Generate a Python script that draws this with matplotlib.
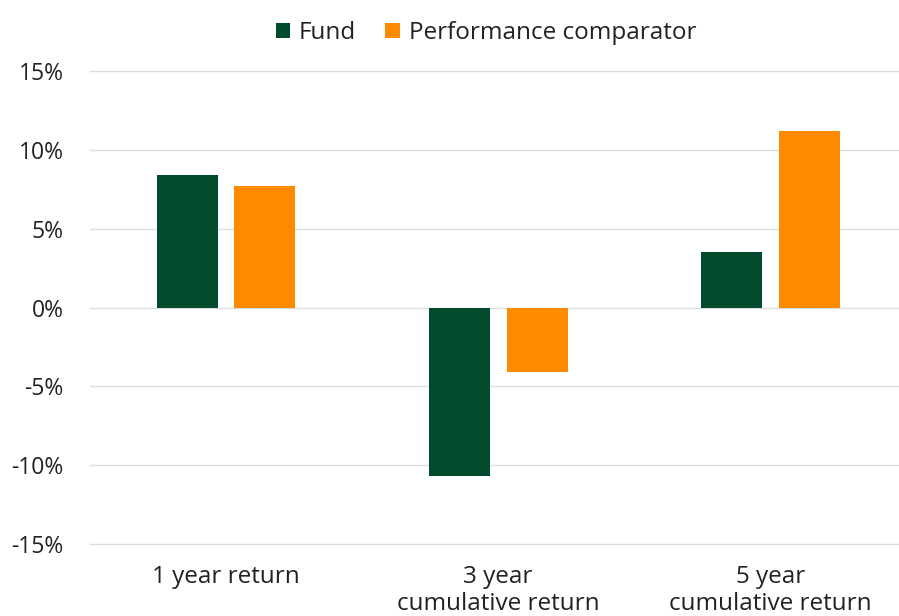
import matplotlib
matplotlib.use("Agg")
import matplotlib.pyplot as plt
import numpy as np

# chart data
categories = ["1 year return", "3 year\ncumulative return", "5 year\ncumulative return"]
fund = [8.4, -10.7, 3.5]
comparator = [7.7, -4.1, 11.2]
series_names = ["Fund", "Performance comparator"]
yticks = [-15, -10, -5, 0, 5, 10, 15]

green = "#024B2D"
orange = "#FF8A00"

plt.rcParams["font.family"] = ["Open Sans", "DejaVu Sans"]

fig = plt.figure(figsize=(8.99, 6.16), dpi=100)
ax = fig.add_axes([0.1001, 0.1169, 0.8989, 0.7678])

x = np.arange(len(categories))
width = 0.224
offset = 0.143
ax.bar(x - offset, fund, width, color=green, label=series_names[0], zorder=3)
ax.bar(x + offset, comparator, width, color=orange, label=series_names[1], zorder=3)

ax.set_xlim(-0.5, 2.47)
ax.set_ylim(-15, 15)
ax.set_yticks(yticks)
ax.set_yticklabels([f"{t}%" for t in yticks])
ax.yaxis.grid(True, color="#DDDDDD", linewidth=1, zorder=0)
for gl in ax.get_ygridlines():
    gl.set_clip_on(False)
ax.set_xticks(x)
ax.set_xticklabels(categories, linespacing=1.2)

for s in ax.spines.values():
    s.set_visible(False)
ax.tick_params(axis="both", length=0, colors="#222222")
ax.tick_params(axis="y", labelsize=16.5, pad=19)
ax.tick_params(axis="x", labelsize=17.5, pad=15)

ax.legend(loc="center", bbox_to_anchor=(0.49, 1.08), ncol=2, frameon=False,
          fontsize=17.5, handlelength=0.6, handleheight=0.6, handletextpad=0.35,
          columnspacing=1.2, labelcolor="#222222")

fig.savefig("out.png", dpi=100)
